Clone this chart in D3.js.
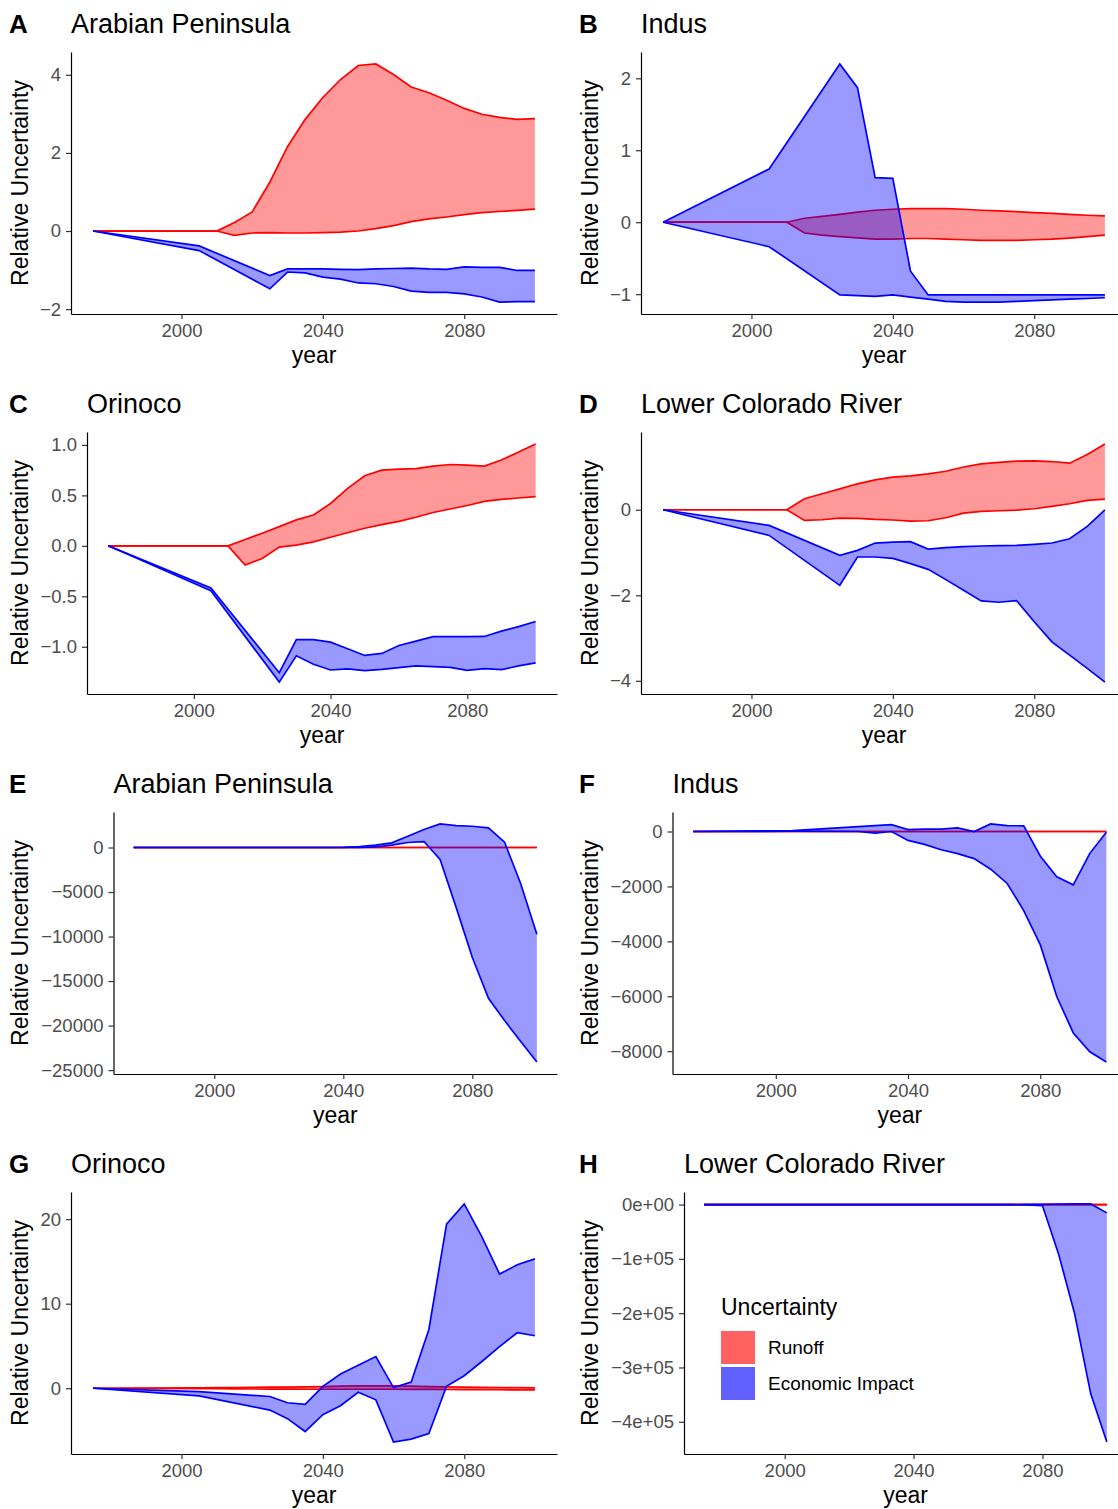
<!DOCTYPE html>
<html>
<head>
<meta charset="utf-8">
<script src="https://cdn.jsdelivr.net/npm/d3@7"></script>
<style>
  body { margin: 0; background: #fff; }
  text { font-family: "Liberation Sans", Arial, Helvetica, sans-serif; }
</style>
</head>
<body>
<svg id="chart" width="1118" height="1509"></svg>
<script>
// years of the two series (runoff has every 5 years from 2005, economic impact starts again at 2025)
const yearsRunoff = [1975, 2005, 2010, 2015, 2020, 2025, 2030, 2035, 2040, 2045, 2050,
  2055, 2060, 2065, 2070, 2075, 2080, 2085, 2090, 2095, 2100];
const yearsEcon = [1975, 2005, 2025, 2030, 2035, 2040, 2045, 2050, 2055, 2060,
  2065, 2070, 2075, 2080, 2085, 2090, 2095, 2100];

const xTicks = [2000, 2040, 2080];

// --- A: Arabian Peninsula (relative) ---
const runoffUpA = [0, 0, 0, 0.22, 0.49, 1.25, 2.16, 2.86, 3.42, 3.88, 4.24, 4.28, 4.01, 3.69, 3.54, 3.35, 3.14, 2.99, 2.91, 2.86, 2.88];
const runoffLoA = [0, 0, 0, -0.11, -0.05, -0.04, -0.05, -0.05, -0.04, -0.03, 0, 0.06, 0.14, 0.24, 0.31, 0.36, 0.42, 0.47, 0.5, 0.53, 0.56];
const econUpA = [0, -0.38, -1.14, -0.97, -0.97, -0.97, -0.98, -0.99, -0.97, -0.96, -0.95, -0.97, -0.98, -0.92, -0.93, -0.93, -1.01, -1.01];
const econLoA = [0, -0.5, -1.48, -1.05, -1.07, -1.18, -1.23, -1.33, -1.35, -1.42, -1.54, -1.57, -1.57, -1.61, -1.69, -1.82, -1.81, -1.81];
const yTicksA = [-2, 0, 2, 4];
const yLabelsA = ["\u22122", "0", "2", "4"];

// --- B: Indus (relative) ---
const runoffUpB = [0, 0, 0, 0.055, 0.08, 0.11, 0.14, 0.166, 0.18, 0.19, 0.19, 0.19, 0.18, 0.166, 0.157, 0.147, 0.134, 0.124, 0.11, 0.097, 0.088];
const runoffLoB = [0, 0, 0, -0.15, -0.18, -0.2, -0.217, -0.235, -0.235, -0.226, -0.226, -0.235, -0.244, -0.253, -0.253, -0.253, -0.244, -0.235, -0.22, -0.2, -0.18];
const econUpB = [0, 0.74, 2.2, 1.87, 0.62, 0.61, -0.68, -1.01, -1.01, -1.01, -1.01, -1.01, -1.01, -1.01, -1.01, -1.01, -1.01, -1.01];
const econLoB = [0, -0.34, -1.01, -1.02, -1.03, -1.01, -1.04, -1.07, -1.1, -1.11, -1.11, -1.11, -1.1, -1.09, -1.08, -1.07, -1.06, -1.05];
const yTicksB = [-1, 0, 1, 2];
const yLabelsB = ["\u22121", "0", "1", "2"];

// --- C: Orinoco (relative) ---
const runoffUpC = [0, 0, 0, 0.0625, 0.125, 0.19, 0.257, 0.306, 0.42, 0.57, 0.694, 0.75, 0.76, 0.766, 0.79, 0.806, 0.8, 0.79, 0.85, 0.93, 1.01];
const runoffLoC = [0, 0, 0, -0.19, -0.125, -0.013, 0.007, 0.04, 0.085, 0.13, 0.174, 0.21, 0.243, 0.283, 0.33, 0.365, 0.4, 0.44, 0.46, 0.474, 0.487];
const econUpC = [0, -0.418, -1.257, -0.93, -0.93, -0.954, -1.02, -1.086, -1.066, -0.987, -0.944, -0.9, -0.9, -0.9, -0.898, -0.845, -0.8, -0.75];
const econLoC = [0, -0.444, -1.35, -1.09, -1.174, -1.23, -1.22, -1.237, -1.224, -1.207, -1.19, -1.197, -1.204, -1.234, -1.217, -1.227, -1.19, -1.16];
const yTicksC = [-1, -0.5, 0, 0.5, 1];
const yLabelsC = ["\u22121.0", "\u22120.5", "0.0", "0.5", "1.0"];

// --- D: Lower Colorado River (relative) ---
const runoffUpD = [0, 0, 0, 0.257, 0.374, 0.49, 0.607, 0.7, 0.763, 0.794, 0.84, 0.9, 1.0, 1.074, 1.11, 1.136, 1.144, 1.128, 1.09, 1.29, 1.54];
const runoffLoD = [0, 0, 0, -0.25, -0.233, -0.195, -0.2, -0.226, -0.24, -0.265, -0.257, -0.187, -0.078, -0.04, -0.023, -0.008, 0.023, 0.078, 0.14, 0.218, 0.25];
const econUpD = [0, -0.366, -1.066, -0.95, -0.778, -0.755, -0.747, -0.918, -0.887, -0.864, -0.848, -0.84, -0.833, -0.81, -0.778, -0.677, -0.39, 0];
const econLoD = [0, -0.6, -1.767, -1.105, -1.105, -1.136, -1.26, -1.393, -1.634, -1.883, -2.132, -2.163, -2.125, -2.62, -3.09, -3.4, -3.71, -4.03];
const yTicksD = [-4, -2, 0];
const yLabelsD = ["\u22124", "\u22122", "0"];

// --- E: Arabian Peninsula (absolute) ---
const runoffUpE = [0, 0, 0, 0, 0, 0, 0, 0, 0, 0, 0, 0, 0, 0, 0, 0, 0, 0, 0, 0, 0];
const runoffLoE = [0, 0, 0, 0, 0, 0, 0, 0, 0, 0, 0, 0, 0, 0, 0, 0, 0, 0, 0, 0, 0];
const econUpE = [0, 0, 0, 0, 0, 20, 110, 260, 520, 1270, 2015, 2650, 2463, 2388, 2200, 597, -4067, -9740];
const econLoE = [0, 0, 0, 0, 0, 0, 0, 60, 260, 560, 670, -1340, -6750, -12350, -16940, -19440, -21790, -24100];
const yTicksE = [-25000, -20000, -15000, -10000, -5000, 0];
const yLabelsE = ["\u221225000", "\u221220000", "\u221215000", "\u221210000", "\u22125000", "0"];

// --- F: Indus (absolute) ---
const runoffUpF = [0, 0, 0, 0, 0, 0, 0, 0, 0, 0, 0, 0, 0, 0, 0, 0, 0, 0, 0, 0, 0];
const runoffLoF = [0, 0, 0, 0, 0, 0, 0, 0, 0, 0, 0, 0, 0, 0, 0, 0, 0, 0, 0, 0, 0];
const econUpF = [0, 36, 180, 217, 253, 72, 84, 84, 132, 0, 277, 217, 205, -892, -1650, -1940, -795, -24];
const econLoF = [0, 12, 0, -60, 0, -325, -470, -663, -807, -988, -1373, -1892, -2880, -4120, -6010, -7337, -8024, -8398];
const yTicksF = [-8000, -6000, -4000, -2000, 0];
const yLabelsF = ["\u22128000", "\u22126000", "\u22124000", "\u22122000", "0"];

// --- G: Orinoco (absolute) ---
const runoffUpG = [0, 0.05, 0.06, 0.08, 0.1, 0.12, 0.14, 0.17, 0.2, 0.24, 0.27, 0.28, 0.27, 0.24, 0.2, 0.16, 0.13, 0.1, 0.08, 0.06, 0.05];
const runoffLoG = [0, -0.05, -0.06, -0.08, -0.09, -0.1, -0.11, -0.12, -0.12, -0.12, -0.12, -0.12, -0.12, -0.13, -0.14, -0.15, -0.16, -0.17, -0.18, -0.19, -0.2];
const econUpG = [0, -0.39, -0.98, -1.72, -1.91, 0.23, 1.68, 2.73, 3.75, 0.08, 0.74, 6.95, 19.4, 21.8, 17.9, 13.5, 14.6, 15.3];
const econLoG = [0, -0.9, -2.58, -3.6, -5.12, -3.13, -2.07, -0.47, -1.37, -6.37, -6.02, -5.35, 0.23, 1.48, 3.16, 4.92, 6.56, 6.21];
const yTicksG = [0, 10, 20];
const yLabelsG = ["0", "10", "20"];

// --- H: Lower Colorado River (absolute) ---
const runoffUpH = [0, 0, 0, 0, 0, 0, 0, 0, 0, 0, 0, 0, 0, 0, 0, 0, 0, 0, 0, 0, 0];
const runoffLoH = [0, 0, 0, 0, 0, 0, 0, 0, 0, 0, 0, 0, 0, 0, 0, 0, 0, 0, 0, 0, 0];
const econUpH = [0, 0, 0, 0, 0, 0, 0, 0, 0, 0, 0, 0, 300, 600, 900, 1100, 1200, -15300];
const econLoH = [0, 0, 0, 0, 0, 0, 0, 0, 0, 0, 0, -200, -500, -1840, -90800, -201200, -348500, -437400];
const yTicksH = [-400000, -300000, -200000, -100000, 0];
const yLabelsH = ["\u22124e+05", "\u22123e+05", "\u22122e+05", "\u22121e+05", "0e+00"];

const legendTitle = "Uncertainty";
const legendLabels = ["Runoff", "Economic Impact"];

// layout
const ROW_TOP = [0, 380, 760, 1140];
const COL_LEFT = [0, 570];
const PLOT_RIGHT = 557;
const PLOT_TOP = 52;
const PLOT_BOTTOM = 314;
const RED = "#ff0000";
const BLUE = "#0000ff";

const panels = [
  { tag: "A", title: "Arabian Peninsula", row: 0, col: 0, left: 71, rUp: runoffUpA, rLo: runoffLoA, eUp: econUpA, eLo: econLoA, ticks: yTicksA, labels: yLabelsA },
  { tag: "B", title: "Indus", row: 0, col: 1, left: 71, rUp: runoffUpB, rLo: runoffLoB, eUp: econUpB, eLo: econLoB, ticks: yTicksB, labels: yLabelsB },
  { tag: "C", title: "Orinoco", row: 1, col: 0, left: 87, rUp: runoffUpC, rLo: runoffLoC, eUp: econUpC, eLo: econLoC, ticks: yTicksC, labels: yLabelsC },
  { tag: "D", title: "Lower Colorado River", row: 1, col: 1, left: 71, rUp: runoffUpD, rLo: runoffLoD, eUp: econUpD, eLo: econLoD, ticks: yTicksD, labels: yLabelsD },
  { tag: "E", title: "Arabian Peninsula", row: 2, col: 0, left: 113.5, rUp: runoffUpE, rLo: runoffLoE, eUp: econUpE, eLo: econLoE, ticks: yTicksE, labels: yLabelsE },
  { tag: "F", title: "Indus", row: 2, col: 1, left: 102.5, rUp: runoffUpF, rLo: runoffLoF, eUp: econUpF, eLo: econLoF, ticks: yTicksF, labels: yLabelsF },
  { tag: "G", title: "Orinoco", row: 3, col: 0, left: 71, rUp: runoffUpG, rLo: runoffLoG, eUp: econUpG, eLo: econLoG, ticks: yTicksG, labels: yLabelsG },
  { tag: "H", title: "Lower Colorado River", row: 3, col: 1, left: 114, rUp: runoffUpH, rLo: runoffLoH, eUp: econUpH, eLo: econLoH, ticks: yTicksH, labels: yLabelsH, legend: true }
];

const svg = d3.select("#chart");

// ggplot style 5% expansion
function expand(ext) {
  const pad = (ext[1] - ext[0]) * 0.05;
  return [ext[0] - pad, ext[1] + pad];
}

panels.forEach(p => {
  const g = svg.append("g")
    .attr("transform", `translate(${COL_LEFT[p.col]},${ROW_TOP[p.row]})`);

  const x = d3.scaleLinear()
    .domain(expand(d3.extent(yearsRunoff)))
    .range([p.left, PLOT_RIGHT]);
  const y = d3.scaleLinear()
    .domain(expand(d3.extent([...p.rUp, ...p.rLo, ...p.eUp, ...p.eLo])))
    .range([PLOT_BOTTOM, PLOT_TOP]);

  const runoff = yearsRunoff.map((yr, i) => ({ year: yr, hi: p.rUp[i], lo: p.rLo[i] }));
  const econ = yearsEcon.map((yr, i) => ({ year: yr, hi: p.eUp[i], lo: p.eLo[i] }));

  const area = d3.area().x(d => x(d.year)).y0(d => y(d.lo)).y1(d => y(d.hi));
  const lineHi = d3.line().x(d => x(d.year)).y(d => y(d.hi));
  const lineLo = d3.line().x(d => x(d.year)).y(d => y(d.lo));

  [[runoff, RED], [econ, BLUE]].forEach(([data, col]) => {
    g.append("path").datum(data).attr("d", area)
      .attr("fill", col).attr("fill-opacity", 0.4);
    g.append("path").datum(data).attr("d", lineHi)
      .attr("fill", "none").attr("stroke", col).attr("stroke-width", 1.7);
    g.append("path").datum(data).attr("d", lineLo)
      .attr("fill", "none").attr("stroke", col).attr("stroke-width", 1.7);
  });

  // axes
  const yAxis = g.append("g")
    .attr("transform", `translate(${p.left},0)`)
    .call(d3.axisLeft(y).tickValues(p.ticks).tickFormat((d, i) => p.labels[i])
      .tickSize(5).tickPadding(5).tickSizeOuter(0));
  const xAxis = g.append("g")
    .attr("transform", `translate(0,${PLOT_BOTTOM})`)
    .call(d3.axisBottom(x).tickValues(xTicks).tickFormat(d3.format("d"))
      .tickSize(5).tickPadding(5).tickSizeOuter(0));
  [yAxis, xAxis].forEach(ax => {
    ax.select(".domain").attr("stroke", "#000").attr("stroke-width", 1.2);
    ax.selectAll(".tick line").attr("stroke", "#333").attr("stroke-width", 1.2);
    ax.selectAll(".tick text").attr("fill", "#4d4d4d").style("font-size", "18.5px")
      .style("font-family", "'Liberation Sans', Arial, sans-serif");
  });

  // titles
  g.append("text").attr("x", 9).attr("y", 33)
    .style("font-size", "26px").style("font-weight", "bold").text(p.tag);
  g.append("text").attr("x", p.left).attr("y", 33)
    .style("font-size", "27px").text(p.title);
  g.append("text")
    .attr("transform", `translate(28,${(PLOT_TOP + PLOT_BOTTOM) / 2}) rotate(-90)`)
    .attr("text-anchor", "middle").style("font-size", "23px").text("Relative Uncertainty");
  g.append("text").attr("x", (p.left + PLOT_RIGHT) / 2).attr("y", 363)
    .attr("text-anchor", "middle").style("font-size", "23px").text("year");

  if (p.legend) {
    const lg = g.append("g").attr("transform", "translate(151,0)");
    lg.append("text").attr("x", 0).attr("y", 175)
      .style("font-size", "23px").text(legendTitle);
    const keyCols = ["#ff6060", "#6060ff"];
    legendLabels.forEach((lab, i) => {
      lg.append("rect").attr("x", 0).attr("y", 191 + i * 36)
        .attr("width", 34).attr("height", 33).attr("fill", keyCols[i]);
      lg.append("text").attr("x", 47).attr("y", 191 + i * 36 + 23)
        .style("font-size", "19px").text(lab);
    });
  }
});
</script>
</body>
</html>
